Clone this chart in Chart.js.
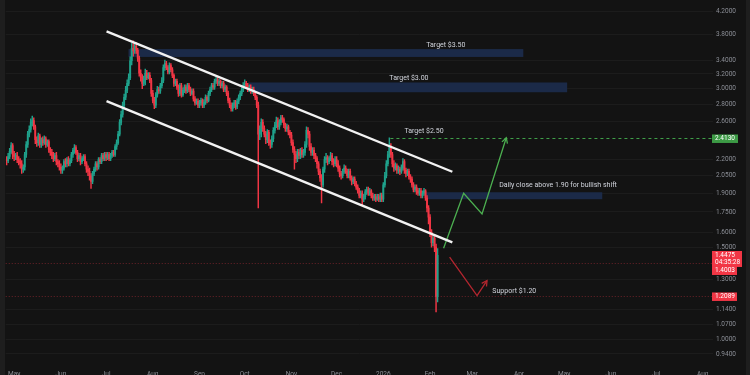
<!DOCTYPE html>
<html>
<head>
<meta charset="utf-8">
<script src="https://cdn.jsdelivr.net/npm/chart.js@4.4.1/dist/chart.umd.min.js"></script>
<style>
  html, body { margin: 0; padding: 0; background: #131313; }
  #wrap { width: 750px; height: 375px; position: relative; }
</style>
</head>
<body>
<div id="wrap"><canvas id="chart"></canvas></div>
<script>
// daily candles from Apr 26 2025 to Feb 6 2026, x = days since May 1 2025
const FIRST_DAY = -5;
const FIRST_OPEN = 2.20;

const closes = [
  // Apr
  2.19, 2.23, 2.28, 2.34, 2.25,
  // May
  2.23, 2.24, 2.20, 2.18, 2.16, 2.11, 2.13, 2.25, 2.35, 2.46, 2.51, 2.59, 2.61, 2.54, 2.40, 2.37,
  2.44, 2.35, 2.40, 2.37, 2.41, 2.35, 2.38, 2.30, 2.27, 2.24, 2.21, 2.24, 2.18, 2.16, 2.13,
  // Jun
  2.10, 2.12, 2.18, 2.16, 2.20, 2.16, 2.19, 2.25, 2.29, 2.32, 2.27, 2.21, 2.24, 2.18, 2.21, 2.23,
  2.16, 2.11, 2.09, 2.05, 2.00, 2.07, 2.11, 2.16, 2.13, 2.20, 2.18, 2.24, 2.21, 2.25,
  // Jul
  2.22, 2.25, 2.21, 2.24, 2.27, 2.25, 2.33, 2.37, 2.46, 2.59, 2.68, 2.79, 2.89, 2.98, 3.07, 3.15,
  3.39, 3.58, 3.54, 3.61, 3.55, 3.43, 3.21, 3.15, 3.07, 3.12, 3.21, 3.15, 3.18, 3.11, 2.94,
  // Aug
  2.85, 2.79, 2.92, 2.99, 2.97, 3.04, 3.11, 3.29, 3.35, 3.29, 3.23, 3.32, 3.26, 3.18, 3.07, 3.10,
  3.02, 2.94, 3.04, 2.92, 2.98, 3.02, 2.97, 3.04, 2.99, 2.94, 2.97, 2.87, 2.82, 2.84, 2.79,
  // Sep
  2.82, 2.85, 2.79, 2.83, 2.89, 2.85, 2.94, 2.99, 3.04, 3.02, 3.10, 3.12, 3.07, 3.10, 3.04, 3.07,
  2.99, 3.02, 2.94, 2.85, 2.79, 2.75, 2.79, 2.82, 2.77, 2.84, 2.89, 2.94, 2.99, 3.04,
  // Oct
  3.07, 3.04, 2.99, 3.02, 2.97, 2.99, 2.94, 2.89, 2.79, 2.46, 2.51, 2.59, 2.52, 2.46, 2.40, 2.48,
  2.37, 2.35, 2.41, 2.50, 2.56, 2.61, 2.54, 2.59, 2.64, 2.62, 2.56, 2.52, 2.54, 2.48, 2.45,
  // Nov
  2.37, 2.30, 2.25, 2.21, 2.27, 2.24, 2.29, 2.25, 2.27, 2.35, 2.50, 2.46, 2.33, 2.27, 2.29, 2.24,
  2.21, 2.16, 2.09, 2.03, 1.97, 2.11, 2.20, 2.22, 2.18, 2.21, 2.24, 2.18, 2.16, 2.20,
  // Dec
  2.16, 2.12, 2.07, 2.05, 2.09, 2.12, 2.09, 2.05, 2.09, 2.03, 2.00, 2.02, 1.98, 1.95, 1.92, 1.88,
  1.90, 1.85, 1.87, 1.91, 1.93, 1.90, 1.92, 1.88, 1.86, 1.87, 1.85, 1.87, 1.85, 1.88, 1.85,
  // Jan
  1.97, 2.05, 2.16, 2.25, 2.32, 2.25, 2.16, 2.12, 2.14, 2.10, 2.11, 2.09, 2.12, 2.18, 2.10, 2.07,
  2.09, 2.04, 2.02, 1.97, 1.93, 1.95, 1.92, 1.90, 1.92, 1.88, 1.90, 1.92, 1.86, 1.78, 1.71,
  // Feb
  1.60, 1.53, 1.56, 1.50, 1.2089, 1.4475
];

const highs = [
  2.23, 2.26, 2.31, 2.37, 2.36,
  2.28, 2.26, 2.27, 2.23, 2.21, 2.19, 2.15, 2.27, 2.38, 2.49, 2.55, 2.63, 2.66, 2.64, 2.56, 2.43,
  2.47, 2.46, 2.42, 2.43, 2.44, 2.43, 2.40, 2.40, 2.32, 2.30, 2.27, 2.26, 2.27, 2.20, 2.19,
  2.16, 2.14, 2.20, 2.21, 2.22, 2.23, 2.21, 2.27, 2.31, 2.35, 2.34, 2.29, 2.26, 2.26, 2.23, 2.25,
  2.25, 2.18, 2.14, 2.12, 2.07, 2.09, 2.13, 2.18, 2.18, 2.22, 2.22, 2.26, 2.26, 2.27,
  2.27, 2.27, 2.27, 2.26, 2.29, 2.29, 2.35, 2.40, 2.49, 2.62, 2.72, 2.83, 2.93, 3.03, 3.12, 3.20,
  3.45, 3.66, 3.70, 3.66, 3.67, 3.58, 3.46, 3.26, 3.19, 3.17, 3.27, 3.25, 3.22, 3.22, 3.14,
  2.98, 2.89, 2.95, 3.03, 3.02, 3.07, 3.15, 3.33, 3.40, 3.38, 3.32, 3.36, 3.35, 3.29, 3.20, 3.13,
  3.13, 3.05, 3.07, 3.07, 3.01, 3.05, 3.05, 3.07, 3.07, 3.02, 3.00, 3.00, 2.90, 2.87, 2.87,
  2.85, 2.88, 2.87, 2.86, 2.92, 2.91, 2.97, 3.02, 3.07, 3.07, 3.13, 3.16, 3.15, 3.13, 3.12, 3.10,
  3.10, 3.05, 3.04, 2.97, 2.88, 2.82, 2.82, 2.85, 2.85, 2.87, 2.92, 2.97, 3.02, 3.08,
  3.12, 3.10, 3.07, 3.05, 3.05, 3.02, 3.02, 2.96, 2.91, 2.83, 2.55, 2.63, 2.62, 2.55, 2.49, 2.51,
  2.50, 2.40, 2.44, 2.53, 2.59, 2.65, 2.64, 2.62, 2.67, 2.67, 2.64, 2.58, 2.57, 2.56, 2.50,
  2.48, 2.40, 2.33, 2.28, 2.30, 2.30, 2.31, 2.32, 2.30, 2.38, 2.54, 2.53, 2.49, 2.36, 2.32, 2.32,
  2.26, 2.23, 2.18, 2.11, 2.06, 2.13, 2.23, 2.26, 2.24, 2.23, 2.27, 2.26, 2.21, 2.23,
  2.23, 2.19, 2.14, 2.09, 2.11, 2.15, 2.14, 2.11, 2.11, 2.11, 2.05, 2.04, 2.04, 2.00, 1.97, 1.94,
  1.92, 1.92, 1.89, 1.93, 1.95, 1.95, 1.94, 1.93, 1.90, 1.89, 1.89, 1.89, 1.89, 1.90, 1.90,
  1.99, 2.08, 2.19, 2.28, 2.42, 2.36, 2.27, 2.19, 2.17, 2.16, 2.14, 2.13, 2.15, 2.21, 2.20, 2.12,
  2.11, 2.11, 2.06, 2.04, 1.99, 1.97, 1.97, 1.94, 1.94, 1.94, 1.92, 1.94, 1.93, 1.88, 1.80,
  1.73, 1.62, 1.58, 1.58, 1.52, 1.49
];

const lows = [
  2.15, 2.17, 2.21, 2.26, 2.21,
  2.19, 2.20, 2.17, 2.15, 2.12, 2.07, 2.08, 2.10, 2.22, 2.32, 2.43, 2.48, 2.55, 2.51, 2.36, 2.33,
  2.34, 2.32, 2.32, 2.34, 2.35, 2.32, 2.33, 2.27, 2.24, 2.21, 2.18, 2.19, 2.15, 2.13, 2.10,
  2.07, 2.07, 2.10, 2.13, 2.13, 2.14, 2.14, 2.17, 2.22, 2.26, 2.25, 2.18, 2.19, 2.15, 2.16, 2.19,
  2.14, 2.08, 2.05, 2.01, 1.94, 1.98, 2.05, 2.09, 2.10, 2.11, 2.16, 2.16, 2.19, 2.19,
  2.19, 2.20, 2.19, 2.19, 2.22, 2.23, 2.23, 2.30, 2.35, 2.44, 2.56, 2.65, 2.76, 2.86, 2.95, 3.04,
  3.12, 3.33, 3.46, 3.50, 3.50, 3.38, 3.17, 3.10, 3.00, 3.04, 3.05, 3.12, 3.13, 3.08, 2.90,
  2.82, 2.75, 2.76, 2.89, 2.94, 2.94, 3.01, 3.08, 3.25, 3.26, 3.20, 3.20, 3.23, 3.15, 3.03, 3.04,
  2.99, 2.90, 2.91, 2.89, 2.90, 2.95, 2.94, 2.95, 2.96, 2.91, 2.92, 2.84, 2.79, 2.80, 2.76,
  2.76, 2.79, 2.76, 2.76, 2.80, 2.82, 2.83, 2.91, 2.96, 2.99, 2.99, 3.07, 3.04, 3.04, 3.01, 3.01,
  2.96, 2.96, 2.91, 2.82, 2.76, 2.72, 2.72, 2.76, 2.74, 2.75, 2.81, 2.86, 2.91, 2.96,
  3.01, 3.01, 2.96, 2.96, 2.94, 2.94, 2.91, 2.86, 2.76, 1.78, 2.40, 2.43, 2.49, 2.43, 2.36, 2.37,
  2.34, 2.31, 2.32, 2.38, 2.47, 2.53, 2.51, 2.51, 2.56, 2.59, 2.53, 2.49, 2.49, 2.45, 2.42,
  2.34, 2.27, 2.11, 2.17, 2.18, 2.21, 2.21, 2.22, 2.22, 2.24, 2.32, 2.42, 2.29, 2.24, 2.24, 2.21,
  2.18, 2.12, 2.06, 2.00, 1.82, 1.95, 2.08, 2.17, 2.15, 2.16, 2.19, 2.15, 2.13, 2.14,
  2.13, 2.09, 2.04, 2.02, 2.03, 2.07, 2.07, 2.03, 2.03, 2.01, 1.97, 1.98, 1.96, 1.93, 1.90, 1.86,
  1.86, 1.80, 1.83, 1.85, 1.89, 1.88, 1.88, 1.86, 1.84, 1.84, 1.83, 1.84, 1.83, 1.83, 1.83,
  1.83, 1.95, 2.03, 2.14, 2.22, 2.22, 2.13, 2.09, 2.10, 2.07, 2.07, 2.06, 2.07, 2.10, 2.07, 2.04,
  2.05, 2.02, 1.99, 1.95, 1.91, 1.91, 1.89, 1.88, 1.88, 1.86, 1.86, 1.88, 1.84, 1.75, 1.66,
  1.57, 1.50, 1.51, 1.47, 1.13, 1.18
];

// axis ticks
const monthTicks = [0, 31, 61, 92, 123, 153, 184, 214, 245, 276, 304, 335, 365, 396, 426, 457];
const monthLabels = ['May', 'Jun', 'Jul', 'Aug', 'Sep', 'Oct', 'Nov', 'Dec', '2026', 'Feb', 'Mar', 'Apr', 'May', 'Jun', 'Jul', 'Aug'];
const priceTicks = [4.2, 3.8, 3.4, 3.2, 3.0, 2.8, 2.6, 2.2, 2.05, 1.9, 1.75, 1.6, 1.5, 1.3, 1.14, 1.07, 1.0, 0.94];

// drawings (x in days since May 1 2025, y in price)
const channelUpper = [{ x: 61.3, y: 3.854 }, { x: 290.8, y: 2.086 }];
const channelLower = [{ x: 61.3, y: 2.842 }, { x: 290.8, y: 1.532 }];
const bullPath = [{ x: 285.0, y: 1.493 }, { x: 298.3, y: 1.898 }, { x: 310.5, y: 1.735 }, { x: 326.6, y: 2.421 }];
const bearPath = [{ x: 289.0, y: 1.436 }, { x: 307.2, y: 1.213 }, { x: 313.8, y: 1.296 }];
const zones = [
  { from: 75.9, to: 337.9, hi: 3.568, lo: 3.447 },
  { from: 155.5, to: 367.0, hi: 3.083, lo: 2.954 },
  { from: 272.9, to: 390.3, hi: 1.907, lo: 1.850 }
];
const targetLine = { from: 249.7, value: 2.413 };
const redLevels = [1.4003, 1.2089];
const notes = [
  { x: 273.5, y: 3.63, text: 'Target $3.50' },
  { x: 249.0, y: 3.137, text: 'Target $3.00' },
  { x: 259.0, y: 2.488, text: 'Target $2.50' },
  { x: 321.9, y: 1.965, text: 'Daily close above 1.90 for bullish shift' },
  { x: 317.3, y: 1.236, text: 'Support $1.20' }
];

const UP = '#1fa28c';
const DOWN = '#f23645';

const opens = closes.map((c, i) => (i === 0 ? FIRST_OPEN : closes[i - 1]));
const bodies = closes.map((c, i) => ({ x: FIRST_DAY + i, y: [opens[i], c] }));
const wicks = closes.map((c, i) => ({
  x: FIRST_DAY + i,
  y: [Math.min(lows[i], opens[i], c), Math.max(highs[i], opens[i], c)]
}));
const candleColor = ctx => (closes[ctx.dataIndex] >= opens[ctx.dataIndex] ? UP : DOWN);

function arrowHead(ctx, pts, xs, ys, color) {
  const a = pts[pts.length - 2], b = pts[pts.length - 1];
  const x1 = xs.getPixelForValue(a.x), y1 = ys.getPixelForValue(a.y);
  const x2 = xs.getPixelForValue(b.x), y2 = ys.getPixelForValue(b.y);
  const ang = Math.atan2(y2 - y1, x2 - x1);
  const len = 6;
  ctx.strokeStyle = color;
  ctx.lineWidth = 1.3;
  ctx.setLineDash([]);
  ctx.beginPath();
  ctx.moveTo(x2 - len * Math.cos(ang - 0.5), y2 - len * Math.sin(ang - 0.5));
  ctx.lineTo(x2, y2);
  ctx.lineTo(x2 - len * Math.cos(ang + 0.5), y2 - len * Math.sin(ang + 0.5));
  ctx.stroke();
}

function priceTag(ctx, x, top, w, lines, color) {
  const h = lines.length * 7.5 + 1;
  ctx.fillStyle = color;
  ctx.fillRect(x, top, w, h);
  ctx.fillStyle = '#ffffff';
  ctx.textAlign = 'left';
  ctx.textBaseline = 'middle';
  lines.forEach((t, i) => ctx.fillText(t, x + 3, top + 4.3 + i * 7.5));
  return top + h;
}

const overlay = {
  id: 'overlay',
  beforeDraw(chart) {
    const { ctx, width, height } = chart;
    ctx.save();
    ctx.fillStyle = '#131313';
    ctx.fillRect(0, 0, width, height);
    ctx.fillStyle = '#1e1e1e';
    ctx.fillRect(0, 0, 5, height);
    ctx.fillRect(width - 4, 0, 4, height);
    ctx.restore();
  },
  beforeDatasetsDraw(chart) {
    const { ctx, chartArea: a, scales: { x, y } } = chart;
    ctx.save();
    ctx.fillStyle = '#1b2a48';
    zones.forEach(z => {
      const x0 = x.getPixelForValue(z.from), x1 = x.getPixelForValue(z.to);
      const y0 = y.getPixelForValue(z.hi), y1 = y.getPixelForValue(z.lo);
      ctx.fillRect(x0, y0, x1 - x0, y1 - y0);
    });
    ctx.lineWidth = 1;
    ctx.strokeStyle = '#6b2128';
    ctx.setLineDash([1, 2]);
    redLevels.forEach(v => {
      const py = Math.round(y.getPixelForValue(v)) + 0.5;
      ctx.beginPath();
      ctx.moveTo(a.left, py);
      ctx.lineTo(a.right, py);
      ctx.stroke();
    });
    ctx.strokeStyle = '#3f9f49';
    ctx.setLineDash([3, 3]);
    const ty = Math.round(y.getPixelForValue(targetLine.value)) + 0.5;
    ctx.beginPath();
    ctx.moveTo(x.getPixelForValue(targetLine.from), ty);
    ctx.lineTo(a.right, ty);
    ctx.stroke();
    ctx.restore();
  },
  afterDatasetsDraw(chart) {
    const { ctx, scales: { x, y } } = chart;
    ctx.save();
    arrowHead(ctx, bullPath, x, y, '#4caf50');
    arrowHead(ctx, bearPath, x, y, '#b3262f');
    ctx.font = '7px Roboto';
    ctx.fillStyle = '#d1d4dc';
    ctx.textAlign = 'left';
    ctx.textBaseline = 'middle';
    notes.forEach(n => ctx.fillText(n.text, x.getPixelForValue(n.x), y.getPixelForValue(n.y)));
    ctx.restore();
  },
  afterDraw(chart) {
    const { ctx, chartArea: a, scales: { y } } = chart;
    ctx.save();
    ctx.font = '6.5px Roboto';
    const x0 = a.right - 1;
    priceTag(ctx, x0, y.getPixelForValue(targetLine.value) - 4, 26, ['2.4130'], '#3c9a45');
    const last = closes[closes.length - 1];
    const next = priceTag(ctx, x0, y.getPixelForValue(last) - 4.3, 30, [last.toFixed(4), '04:35:28'], DOWN);
    priceTag(ctx, x0, next - 0.5, 25, [redLevels[0].toFixed(4)], DOWN);
    priceTag(ctx, x0, y.getPixelForValue(redLevels[1]) - 4, 25, [redLevels[1].toFixed(4)], DOWN);
    ctx.restore();
  }
};

Chart.defaults.font.family = 'Roboto';

new Chart(document.getElementById('chart'), {
  type: 'bar',
  data: {
    datasets: [
      { type: 'line', data: channelUpper, borderColor: '#f2f2f2', borderWidth: 2.4, pointRadius: 0, order: 0 },
      { type: 'line', data: channelLower, borderColor: '#f2f2f2', borderWidth: 2.4, pointRadius: 0, order: 0 },
      { type: 'line', data: bullPath, borderColor: '#4caf50', borderWidth: 1.3, pointRadius: 0, order: 0 },
      { type: 'line', data: bearPath, borderColor: '#b3262f', borderWidth: 1.3, pointRadius: 0, order: 0 },
      { data: bodies, backgroundColor: candleColor, barThickness: 1.2, minBarLength: 1, grouped: false, order: 1 },
      { data: wicks, backgroundColor: candleColor, barThickness: 0.8, grouped: false, order: 2 }
    ]
  },
  options: {
    responsive: true,
    maintainAspectRatio: false,
    animation: false,
    layout: { padding: { left: 5, top: 0, right: 0, bottom: 0 } },
    plugins: { legend: { display: false }, tooltip: { enabled: false } },
    scales: {
      x: {
        type: 'linear',
        min: -5.6,
        max: 463.8,
        offset: false,
        grid: { display: false, drawTicks: false },
        border: { display: false },
        afterBuildTicks: s => { s.ticks = monthTicks.map(v => ({ value: v })); },
        afterFit: s => { s.height = 13; },
        ticks: {
          autoSkip: false,
          maxRotation: 0,
          padding: 8,
          color: '#8b8e96',
          font: { size: 6.5 },
          callback: (v, i) => monthLabels[i]
        }
      },
      y: {
        type: 'logarithmic',
        position: 'right',
        min: 0.9075,
        max: 4.291,
        grid: { color: '#1c1c1c', drawTicks: false },
        border: { display: false },
        afterBuildTicks: s => { s.ticks = priceTicks.map(v => ({ value: v })); },
        afterFit: s => { s.width = 37; },
        ticks: {
          padding: 3,
          color: '#8b8e96',
          font: { size: 6.5 },
          callback: v => Number(v).toFixed(4)
        }
      }
    }
  },
  plugins: [overlay]
});
</script>
</body>
</html>
